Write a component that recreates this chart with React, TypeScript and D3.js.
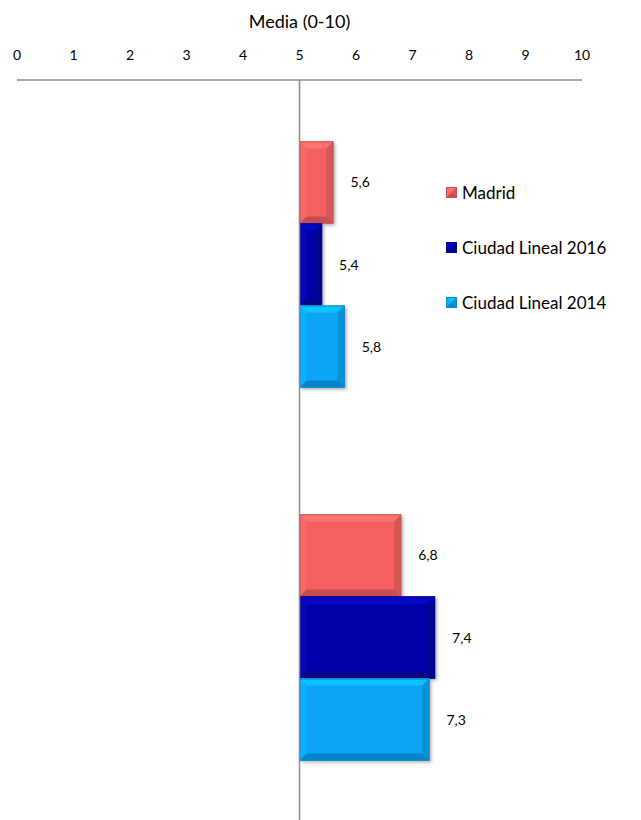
import React from "react";
import * as d3 from "d3";

const categories = ["A", "B"];
const seriesNames = ["Madrid", "Ciudad Lineal 2016", "Ciudad Lineal 2014"];
const madrid = [5.6, 6.8];
const cl2016 = [5.4, 7.4];
const cl2014 = [5.8, 7.3];
const xTicks = [0, 1, 2, 3, 4, 5, 6, 7, 8, 9, 10];
const colors = ["#F46060", "#0505A8", "#08A4F6"];

const W = 641;
const H = 820;

function fmt(v: number) {
  return v.toFixed(1).replace(".", ",");
}

export default function App() {
  const x = d3.scaleLinear().domain([0, 10]).range([17, 582]);
  const y0 = d3.scaleBand<string>().domain(categories).range([78, 824]).paddingInner(0.34).paddingOuter(0.17);
  const y1 = d3.scaleBand<string>().domain(seriesNames).range([0, y0.bandwidth()]).padding(0);
  const values = [madrid, cl2016, cl2014];
  const base = 5;
  const font = "Lato, 'Open Sans', sans-serif";

  const bevel = (bx: number, by: number, bw: number, bh: number, key: string, color: string, shadow = true) => {
    const b = Math.min(7, bw / 2, bh / 2);
    const c = d3.color(color)!;
    const light = c.brighter(0.5).formatHex();
    const lighter = c.brighter(0.2).formatHex();
    const dark = c.darker(0.35).formatHex();
    const darker = c.darker(0.6).formatHex();
    return (
      <g key={key}>
        <rect x={bx} y={by} width={bw} height={bh} fill={color} filter={shadow ? "url(#shadow)" : undefined} />
        <polygon points={`${bx},${by} ${bx + bw},${by} ${bx + bw - b},${by + b} ${bx + b},${by + b}`} fill={light} />
        <polygon points={`${bx},${by} ${bx + b},${by + b} ${bx + b},${by + bh - b} ${bx},${by + bh}`} fill={lighter} />
        <polygon points={`${bx + bw},${by} ${bx + bw},${by + bh} ${bx + bw - b},${by + bh - b} ${bx + bw - b},${by + b}`} fill={dark} />
        <polygon points={`${bx},${by + bh} ${bx + b},${by + bh - b} ${bx + bw - b},${by + bh - b} ${bx + bw},${by + bh}`} fill={darker} />
        <rect x={bx + 0.5} y={by + 0.5} width={bw - 1} height={bh - 1} fill="none" stroke={c.darker(0.5).formatHex()} strokeWidth={1} />
      </g>
    );
  };

  return (
    <svg width={W} height={H} style={{ position: "absolute", left: 0, top: 0 }}>
      <defs>
        <filter id="shadow" x="-10%" y="-10%" width="130%" height="130%">
          <feDropShadow dx="2" dy="2" stdDeviation="1.5" floodColor="#000" floodOpacity="0.3" />
        </filter>
      </defs>
      <rect width={W} height={H} fill="#fff" />
      <text x={x(5)} y={28} textAnchor="middle" fontFamily={font} fontSize={18} fill="#000">
        Media (0-10)
      </text>
      {xTicks.map((t) => (
        <text key={t} x={x(t)} y={60} textAnchor="middle" fontFamily={font} fontSize={14} fill="#000">
          {t}
        </text>
      ))}
      <line x1={x(0)} x2={x(10)} y1={80} y2={80} stroke="#8c8c8c" strokeWidth={1.5} />
      {categories.map((cat, ci) =>
        seriesNames.map((s, si) => {
          const v = values[si][ci];
          const by = (y0(cat) as number) + (y1(s) as number);
          const bh = y1.bandwidth();
          const bx = x(base);
          const bw = x(v) - x(base);
          return (
            <g key={cat + s}>
              {bevel(bx, by, bw, bh, "b" + cat + s, colors[si])}
              <text x={x(v) + 17} y={by + bh / 2 + 5} fontFamily={font} fontSize={14} fill="#000">
                {fmt(v)}
              </text>
            </g>
          );
        })
      )}
      <line x1={x(5)} x2={x(5)} y1={80} y2={H} stroke="#8c8c8c" strokeWidth={1.5} />
      {seriesNames.map((s, i) => {
        const ly = 193 + i * 55;
        return (
          <g key={s}>
            {bevel(446, ly - 6, 11, 11, "l" + s, colors[i], false)}
            <text x={462} y={ly + 6} fontFamily={font} fontSize={17} fill="#000">
              {s}
            </text>
          </g>
        );
      })}
    </svg>
  );
}
